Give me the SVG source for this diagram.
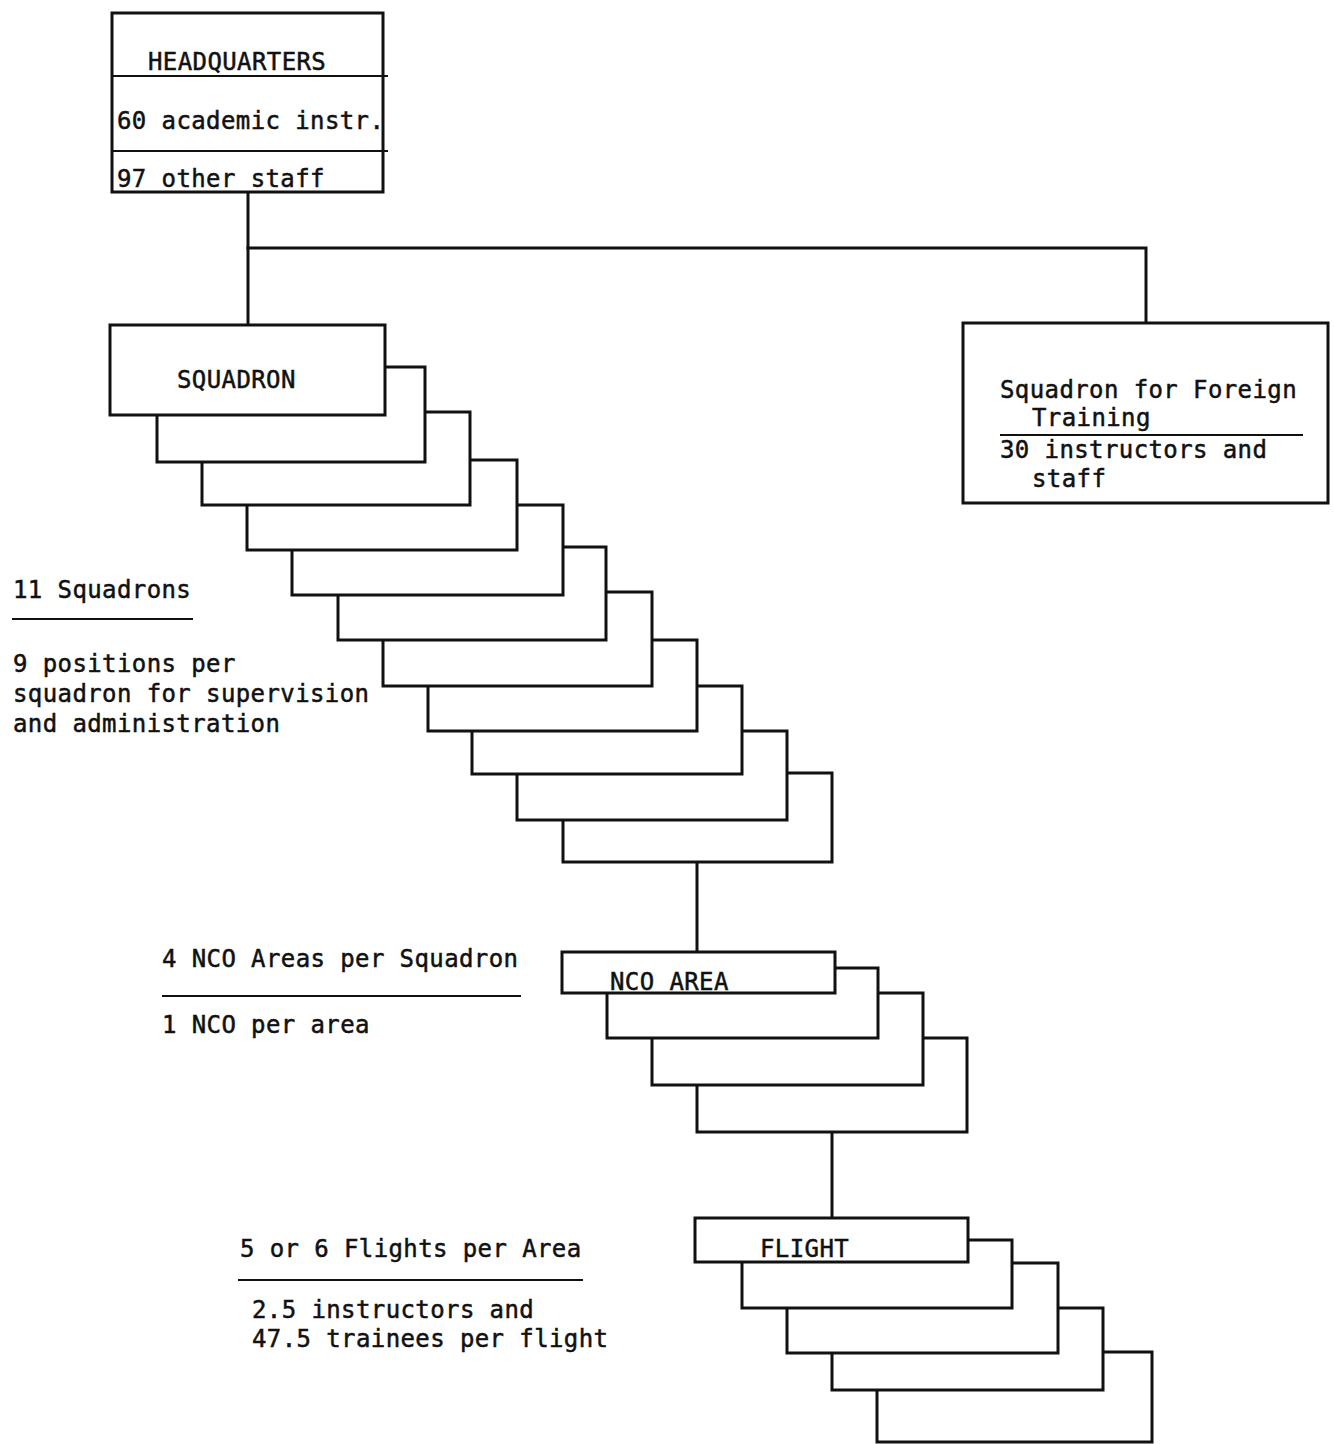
<svg xmlns="http://www.w3.org/2000/svg" width="1334" height="1444" viewBox="0 0 1334 1444">
  <style>
    .box { fill: #fff; stroke: #111; stroke-width: 3; }
    .ln { fill: none; stroke: #111; stroke-width: 3; stroke-linecap: square; }
    .rule { fill: none; stroke: #111; stroke-width: 2; }
    text { font-family: "DejaVu Sans Mono", "Liberation Mono", monospace; font-size: 24px; fill: #111; stroke: #111; stroke-width: 0.5px; letter-spacing: 0.4px; }
  </style>
  <rect width="1334" height="1444" fill="#fff"/>

  <!-- connectors -->
  <g id="connectors" class="ln">
    <path d="M248 192 V325"/>
    <path d="M248 248 H1146 V323"/>
    <path d="M697 862 V952"/>
    <path d="M832 1132 V1218"/>
  </g>

  <!-- headquarters -->
  <g id="headquarters">
    <rect class="box" x="112" y="13" width="271" height="179"/>
    <path class="rule" d="M112 76 H388 M112 151 H388"/>
    <text x="148" y="70">HEADQUARTERS</text>
    <text x="117" y="129">60 academic instr.</text>
    <text x="117" y="187">97 other staff</text>
  </g>

  <!-- foreign training squadron -->
  <g id="foreign-squadron">
    <rect class="box" x="963" y="323" width="365" height="180"/>
    <path class="rule" d="M1000 435 H1303"/>
    <text x="1000" y="398">Squadron for Foreign</text>
    <text x="1032" y="426">Training</text>
    <text x="1000" y="458">30 instructors and</text>
    <text x="1032" y="487">staff</text>
  </g>

  <!-- squadron stack, drawn back to front -->
  <g id="squadrons">
    <rect class="box" x="563" y="773" width="269" height="89"/>
    <rect class="box" x="517" y="731" width="270" height="89"/>
    <rect class="box" x="472" y="686" width="270" height="88"/>
    <rect class="box" x="428" y="640" width="269" height="91"/>
    <rect class="box" x="383" y="592" width="269" height="94"/>
    <rect class="box" x="338" y="547" width="268" height="93"/>
    <rect class="box" x="292" y="505" width="271" height="90"/>
    <rect class="box" x="247" y="460" width="270" height="90"/>
    <rect class="box" x="202" y="412" width="268" height="93"/>
    <rect class="box" x="157" y="367" width="268" height="95"/>
    <rect class="box" x="110" y="325" width="275" height="90"/>
    <text x="177" y="388">SQUADRON</text>
  </g>

  <!-- NCO area stack -->
  <g id="nco-areas">
    <rect class="box" x="697" y="1038" width="270" height="94"/>
    <rect class="box" x="652" y="993" width="271" height="92"/>
    <rect class="box" x="607" y="968" width="271" height="70"/>
    <rect class="box" x="562" y="952" width="273" height="41"/>
    <text x="610" y="990">NCO AREA</text>
  </g>

  <!-- flight stack -->
  <g id="flights">
    <rect class="box" x="877" y="1352" width="275" height="90"/>
    <rect class="box" x="832" y="1308" width="271" height="82"/>
    <rect class="box" x="787" y="1263" width="271" height="90"/>
    <rect class="box" x="742" y="1240" width="270" height="68"/>
    <rect class="box" x="695" y="1218" width="273" height="44"/>
    <text x="760" y="1257">FLIGHT</text>
  </g>

  <!-- side notes -->
  <g id="note-squadrons">
    <text x="13" y="598">11 Squadrons</text>
    <path class="rule" d="M12 619 H193"/>
    <text x="13" y="672">9 positions per</text>
    <text x="13" y="702">squadron for supervision</text>
    <text x="13" y="732">and administration</text>
  </g>
  <g id="note-nco">
    <text x="162" y="967">4 NCO Areas per Squadron</text>
    <path class="rule" d="M162 996 H521"/>
    <text x="162" y="1033">1 NCO per area</text>
  </g>
  <g id="note-flights">
    <text x="240" y="1257">5 or 6 Flights per Area</text>
    <path class="rule" d="M238 1280 H583"/>
    <text x="252" y="1318">2.5 instructors and</text>
    <text x="252" y="1347">47.5 trainees per flight</text>
  </g>
</svg>
